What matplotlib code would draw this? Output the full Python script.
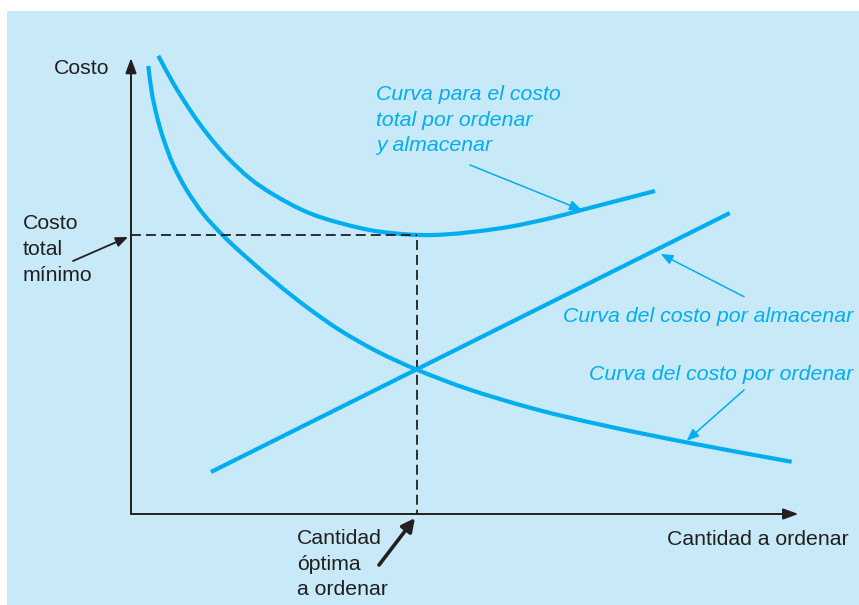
import matplotlib.pyplot as plt
import numpy as np
from matplotlib.patches import Rectangle, FancyArrowPatch, PathPatch
from matplotlib.path import Path

W, H = 859, 605

# curvas (cantidad y costo en unidades relativas 0-100)
q_ordenar = [2.60, 3.11, 3.86, 4.85, 6.35, 8.36, 10.86, 13.74, 16.37, 21.37, 26.38,
             31.38, 36.94, 42.79, 50.41, 60.41, 70.42, 83.44, 99.20]
c_ordenar = [98.25, 92.54, 87.39, 82.35, 76.54, 71.05, 65.79, 61.18, 57.54, 51.18,
             45.39, 40.29, 35.66, 31.73, 27.50, 23.11, 19.61, 15.70, 11.45]

q_almacenar = [12.0, 89.9]
c_almacenar = [9.2, 66.0]

q_total = [4.10, 6.35, 8.86, 11.37, 14.37, 17.87, 21.37, 26.38, 31.38, 37.39, 45.35,
           55.41, 62.91, 67.67, 78.68]
c_total = [100.5, 94.45, 88.60, 83.49, 78.36, 73.57, 70.07, 66.23, 63.82, 61.91,
           61.18, 62.65, 64.85, 66.67, 70.83]

q_optima = 42.9
costo_minimo = 61.2

fondo = '#C7E9F8'
cian = '#00AEEF'
oscuro = '#231F20'
fs = 15.3

plt.rcParams['font.family'] = ['Liberation Sans', 'DejaVu Sans']

fig = plt.figure(figsize=(W / 100, H / 100), dpi=100)
fig.add_artist(Rectangle((7 / W, 0), 1, (H - 11) / H, transform=fig.transFigure,
                         facecolor=fondo, edgecolor='none', zorder=0))

# ejes: (0,0) en pixel (131,514), (100,100) en pixel (797,58)
ax = fig.add_axes([131 / W, (H - 514) / H, 666 / W, 456 / H])
ax.set_xlim(0, 100)
ax.set_ylim(0, 100)
ax.axis('off')


def px(x, y):
    return (x, H - y)


def curva_suave(xs, ys):
    # trazo bezier que pasa por los puntos leidos (tangentes tipo catmull-rom)
    esc = np.array([6.66, 4.56])
    P = np.column_stack([xs, ys]) * esc
    n = len(P)
    T = []
    for i in range(n):
        d = P[min(i + 1, n - 1)] - P[max(i - 1, 0)]
        T.append(d / np.linalg.norm(d))
    verts = [P[0]]
    codes = [Path.MOVETO]
    for i in range(n - 1):
        L = np.linalg.norm(P[i + 1] - P[i]) / 3
        verts += [P[i] + T[i] * L, P[i + 1] - T[i + 1] * L, P[i + 1]]
        codes += [Path.CURVE4] * 3
    return Path(np.array(verts) / esc, codes)


# flechas de los ejes
estilo_eje = dict(arrowstyle='-|>,head_length=0.6,head_width=0.22',
                  mutation_scale=15, lw=1.4, color=oscuro, shrinkA=0, shrinkB=0)
ax.annotate('', xy=(100.2, 0), xytext=(0, 0), arrowprops=estilo_eje,
            annotation_clip=False)
ax.annotate('', xy=(0, 100), xytext=(0, 0), arrowprops=estilo_eje,
            annotation_clip=False)

# lineas punteadas del optimo
ax.plot([0, q_optima], [costo_minimo, costo_minimo], color=oscuro, lw=1.3,
        linestyle=(0, (5.5, 2.8)), clip_on=False)
ax.plot([q_optima, q_optima], [costo_minimo - 1.2, 0], color=oscuro, lw=1.3,
        linestyle=(0, (5.5, 2.8)), clip_on=False)

# curvas
for xs, ys in [(q_ordenar, c_ordenar), (q_total, c_total)]:
    ax.add_patch(PathPatch(curva_suave(xs, ys), facecolor='none', edgecolor=cian,
                           lw=3, capstyle='butt', clip_on=False))
ax.plot(q_almacenar, c_almacenar, color=cian, lw=3, solid_capstyle='butt', clip_on=False)

# textos negros
fig.text(54 / W, 1 - 74 / H, 'Costo', fontsize=fs, color=oscuro, va='baseline')
for i, t in enumerate(['Costo', 'total', 'mínimo']):
    fig.text(22.7 / W, 1 - (229.3 + 25.7 * i) / H, t, fontsize=fs, color=oscuro,
             va='baseline')
for i, t in enumerate(['Cantidad', 'óptima', 'a ordenar']):
    fig.text(297.3 / W, 1 - (544 + 25.7 * i) / H, t, fontsize=fs, color=oscuro,
             va='baseline')
fig.text(666.7 / W, 1 - 545 / H, 'Cantidad a ordenar', fontsize=fs, color=oscuro,
         va='baseline')

# textos cian
for i, t in enumerate(['Curva para el costo', 'total por ordenar', 'y almacenar']):
    fig.text(376 / W, 1 - (100 + 25.7 * i) / H, t, fontsize=fs, color=cian,
             style='italic', va='baseline')
fig.text(853 / W, 1 - 321.7 / H, 'Curva del costo por almacenar', fontsize=fs,
         color=cian, style='italic', va='baseline', ha='right')
fig.text(853 / W, 1 - 380 / H, 'Curva del costo por ordenar', fontsize=fs,
         color=cian, style='italic', va='baseline', ha='right')

# flechas de anotacion
flecha_fina = dict(arrowstyle='-|>,head_length=0.6,head_width=0.25', mutation_scale=12,
                   shrinkA=0, shrinkB=0)
fig.add_artist(FancyArrowPatch(px(73, 261), px(128, 237), transform=None,
                               color=oscuro, lw=1.3, **flecha_fina))
fig.add_artist(FancyArrowPatch(px(379, 565), px(415, 518), transform=None,
                               color=oscuro, lw=2.6,
                               arrowstyle='-|>,head_length=0.6,head_width=0.3',
                               mutation_scale=13, shrinkA=0, shrinkB=0))
fig.add_artist(FancyArrowPatch(px(470, 165), px(581.7, 210), transform=None,
                               color=cian, lw=1.1, **flecha_fina))
fig.add_artist(FancyArrowPatch(px(744, 296.7), px(660.7, 254), transform=None,
                               color=cian, lw=1.1, **flecha_fina))
fig.add_artist(FancyArrowPatch(px(744, 390), px(686.7, 440.7), transform=None,
                               color=cian, lw=1.1, **flecha_fina))

fig.savefig('out.png', dpi=100, facecolor='white')
